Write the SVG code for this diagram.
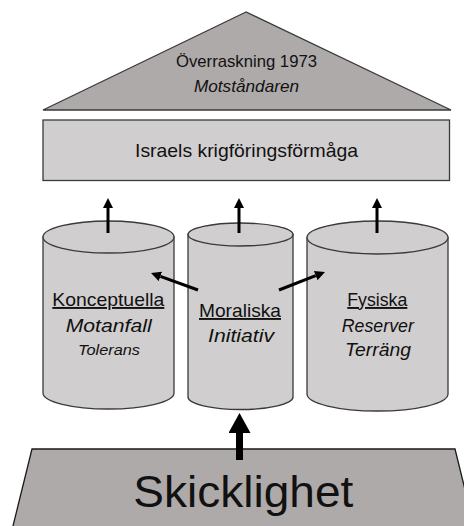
<svg xmlns="http://www.w3.org/2000/svg" width="464" height="526" viewBox="0 0 464 526">
  <style>
    .dark { fill: #AEAAAA; stroke: #3a3a3a; stroke-width: 1.3; }
    .light { fill: #D0CECE; stroke: #3a3a3a; stroke-width: 1.3; }
    text { font-family: "Liberation Sans", Arial, sans-serif; fill: #111; text-anchor: middle; }
    .it { font-style: italic; }
    .ul { text-decoration: underline; }
    .arr { stroke: #000; stroke-width: 3; fill: none; }
    .arrb { stroke: #000; stroke-width: 7; fill: none; }
  </style>
  <defs>
    <marker id="ah" markerUnits="userSpaceOnUse" markerWidth="10" markerHeight="10" refX="0" refY="5" orient="auto">
      <path d="M0,0 L10,5 L0,10 z" fill="#000"/>
    </marker>
    <marker id="ahb" markerUnits="userSpaceOnUse" markerWidth="20" markerHeight="22" refX="0" refY="11" orient="auto">
      <path d="M0,0 L20,11 L0,22 z" fill="#000"/>
    </marker>
  </defs>

  <g id="roof">
    <polygon class="dark" points="246,12 43,110 451,110"/>
    <text x="246.5" y="67" font-size="17" textLength="141" lengthAdjust="spacingAndGlyphs">Överraskning 1973</text>
    <text class="it" x="246.5" y="92" font-size="17" textLength="105" lengthAdjust="spacingAndGlyphs">Motståndaren</text>
  </g>

  <g id="capability">
    <rect class="light" x="43" y="120" width="406.5" height="60.5"/>
    <text x="246.5" y="157" font-size="19" textLength="223" lengthAdjust="spacingAndGlyphs">Israels krigföringsförmåga</text>
  </g>

  <g id="konceptuella">
    <path class="light" d="M43,237 L43,393 A65.5,16 0 0 0 174,393 L174,237 Z"/>
    <ellipse class="light" cx="108.5" cy="237" rx="65.5" ry="16"/>
    <text class="ul" x="108.3" y="306" font-size="19" textLength="112" lengthAdjust="spacingAndGlyphs">Konceptuella</text>
    <text class="it" x="108.7" y="332" font-size="19" textLength="86" lengthAdjust="spacingAndGlyphs">Motanfall</text>
    <text class="it" x="109" y="355" font-size="15" textLength="62" lengthAdjust="spacingAndGlyphs">Tolerans</text>
  </g>

  <g id="moraliska">
    <path class="light" d="M188,234.5 L188,397 A52.5,12.5 0 0 0 293,397 L293,234.5 Z"/>
    <ellipse class="light" cx="240.5" cy="234.5" rx="52.5" ry="11.5"/>
    <text class="ul" x="240" y="317" font-size="19" textLength="82" lengthAdjust="spacingAndGlyphs">Moraliska</text>
    <text class="it" x="241" y="342" font-size="19" textLength="66" lengthAdjust="spacingAndGlyphs">Initiativ</text>
  </g>

  <g id="fysiska">
    <path class="light" d="M307,237.5 L307,394 A70.5,17 0 0 0 448,394 L448,237.5 Z"/>
    <ellipse class="light" cx="377.5" cy="237.5" rx="70.5" ry="16.5"/>
    <text class="ul" x="377.3" y="306" font-size="19" textLength="60" lengthAdjust="spacingAndGlyphs">Fysiska</text>
    <text class="it" x="377.8" y="332" font-size="19" textLength="72" lengthAdjust="spacingAndGlyphs">Reserver</text>
    <text class="it" x="378" y="355.7" font-size="19" textLength="66" lengthAdjust="spacingAndGlyphs">Terräng</text>
  </g>

  <g id="skicklighet">
    <polygon class="dark" points="32,449 455,449 475,530 12,530" style="stroke:#1a1a1a"/>
    <text x="243.3" y="507" font-size="45" textLength="220" lengthAdjust="spacingAndGlyphs">Skicklighet</text>
  </g>

  <g id="connectors">
    <line class="arr" x1="108" y1="233" x2="108" y2="208" marker-end="url(#ah)"/>
    <line class="arr" x1="239" y1="233" x2="239" y2="208" marker-end="url(#ah)"/>
    <line class="arr" x1="377" y1="233" x2="377" y2="208" marker-end="url(#ah)"/>
    <line class="arr" x1="198" y1="290" x2="160.4" y2="276.4" marker-end="url(#ah)"/>
    <line class="arr" x1="279" y1="290" x2="315.7" y2="275.6" marker-end="url(#ah)"/>
    <line class="arrb" x1="239.5" y1="460" x2="239.5" y2="433" marker-end="url(#ahb)"/>
  </g>
</svg>
